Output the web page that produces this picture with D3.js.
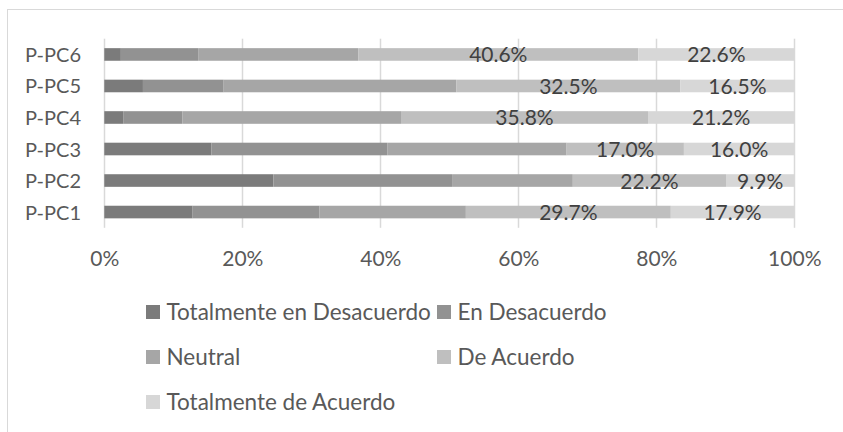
<!DOCTYPE html>
<html>
<head>
<meta charset="utf-8">
<script src="https://cdn.jsdelivr.net/npm/d3@7"></script>
<style>
  html, body { margin: 0; padding: 0; background: #fff; }
  svg { display: block; }
  text { font-family: Lato, "Open Sans", sans-serif; fill: #595959; }
</style>
</head>
<body>
<svg id="chart" width="843" height="432"></svg>
<script>
const categories = ["P-PC1", "P-PC2", "P-PC3", "P-PC4", "P-PC5", "P-PC6"];
const seriesNames = ["Totalmente en Desacuerdo", "En Desacuerdo", "Neutral", "De Acuerdo", "Totalmente de Acuerdo"];
const totalmenteDesacuerdo = [12.8, 24.5, 15.5, 2.8, 5.6, 2.4];
const enDesacuerdo        = [18.4, 25.9, 25.5, 8.5, 11.7, 11.2];
const neutral             = [21.2, 17.5, 26.0, 31.7, 33.7, 23.2];
const deAcuerdo           = [29.7, 22.2, 17.0, 35.8, 32.5, 40.6];
const totalmenteAcuerdo   = [17.9, 9.9, 16.0, 21.2, 16.5, 22.6];
const labeledSeries = ["De Acuerdo", "Totalmente de Acuerdo"];
const tickValues = [0, 20, 40, 60, 80, 100];
const colors = ["#7b7b7b", "#929292", "#a6a6a6", "#bfbfbf", "#d7d7d7"];

const seriesValues = [totalmenteDesacuerdo, enDesacuerdo, neutral, deAcuerdo, totalmenteAcuerdo];
const rows = categories.map((c, i) => {
  const r = { cat: c };
  seriesNames.forEach((s, j) => r[s] = seriesValues[j][i]);
  return r;
});
const stacked = d3.stack().keys(seriesNames)(rows);

const svg = d3.select("#chart");
const FS = 21;

// chart border (right/bottom edges are outside the picture)
svg.append("rect").attr("x", 7.5).attr("y", 9.5).attr("width", 900).attr("height", 500)
  .attr("fill", "none").attr("stroke", "#d9d9d9").attr("stroke-width", 1);

const x = d3.scaleLinear().domain([0, 100]).range([104.3, 794.3]);
const y = d3.scaleBand().domain(categories.slice().reverse()).range([38.7, 227.8])
  .paddingInner(0.6).paddingOuter(0.3);

// gridlines
svg.append("g").selectAll("line").data(tickValues).join("line")
  .attr("x1", d => Math.round(x(d)) + 0.5).attr("x2", d => Math.round(x(d)) + 0.5)
  .attr("y1", 38.7).attr("y2", 227.8)
  .attr("stroke", "#d9d9d9").attr("stroke-width", 1.5);

// bars
const layers = svg.append("g").selectAll("g").data(stacked).join("g")
  .attr("fill", (d, i) => colors[i]);
layers.selectAll("rect").data(d => d.map(v => ({ v, key: d.key }))).join("rect")
  .attr("x", d => x(d.v[0]))
  .attr("width", d => x(d.v[1]) - x(d.v[0]))
  .attr("y", d => y(d.v.data.cat))
  .attr("height", y.bandwidth());

// data labels
stacked.filter(s => labeledSeries.includes(s.key)).forEach(s => {
  svg.append("g").selectAll("text").data(s).join("text")
    .attr("x", d => (x(d[0]) + x(d[1])) / 2)
    .attr("y", d => y(d.data.cat) + y.bandwidth() / 2 + 8)
    .attr("text-anchor", "middle")
    .attr("font-size", FS)
    .style("fill", "#404040")
    .text(d => (d[1] - d[0]).toFixed(1) + "%");
});

// category axis labels
svg.append("g").selectAll("text").data(categories).join("text")
  .attr("x", 81)
  .attr("y", d => y(d) + y.bandwidth() / 2 + 7.5)
  .attr("text-anchor", "end")
  .attr("font-size", 20)
  .text(d => d);

// x axis tick labels
const xAxis = d3.axisBottom(x).tickValues(tickValues).tickFormat(d => d + "%").tickSize(0).tickPadding(0);
const gx = svg.append("g").attr("transform", "translate(0,250)").call(xAxis);
gx.select(".domain").remove();
gx.selectAll("text").attr("font-size", FS).attr("font-family", 'Lato, "Open Sans", sans-serif')
  .attr("dy", null).attr("y", 16).style("fill", "#595959");

// legend
const legendPos = [
  { x: 146, y: 312 }, { x: 437, y: 312 },
  { x: 146, y: 357 }, { x: 437, y: 357 },
  { x: 146, y: 402 }
];
const lg = svg.append("g").selectAll("g").data(seriesNames).join("g")
  .attr("transform", (d, i) => `translate(${legendPos[i].x},${legendPos[i].y})`);
lg.append("rect").attr("x", 0).attr("y", -7).attr("width", 14).attr("height", 14)
  .attr("fill", (d, i) => colors[i]);
lg.append("text").attr("x", 20.5).attr("y", 7.8).attr("font-size", 22.5).text(d => d);
</script>
</body>
</html>
